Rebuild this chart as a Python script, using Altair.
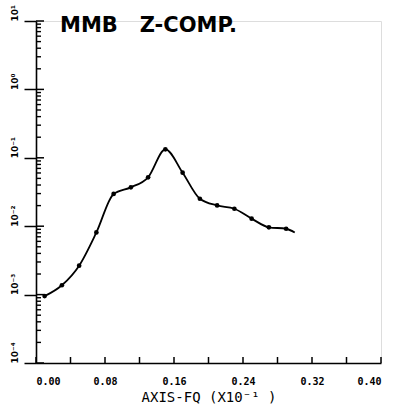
import altair as alt
import pandas as pd

# data
freq = [0.01, 0.03, 0.05, 0.07, 0.09, 0.11, 0.13, 0.15, 0.17, 0.19, 0.21, 0.23, 0.25, 0.27, 0.29]
amp = [9.5e-4, 1.37e-3, 2.65e-3, 8.1e-3, 0.0296, 0.037, 0.0519, 0.133, 0.0606,
       0.0252, 0.0201, 0.0180, 0.0129, 0.00964, 0.00918]
line_freq = freq + [0.30]
line_amp = amp + [0.0081]

x_ticks = [0.0, 0.04, 0.08, 0.12, 0.16, 0.20, 0.24, 0.28, 0.32, 0.36, 0.40]
x_labels = [0.0, 0.08, 0.16, 0.24, 0.32, 0.40]
y_major = [1e-4, 1e-3, 1e-2, 1e-1, 1e0, 1e1]
y_minor = [m * 10.0 ** e for e in range(-4, 1) for m in range(2, 10)]

W, H = 345, 342

pts = pd.DataFrame({"f": freq, "a": amp})
ln = pd.DataFrame({"f": line_freq, "a": line_amp})
xt = pd.DataFrame({"f": x_ticks})
ymin = pd.DataFrame({"a": y_minor})
ymaj = pd.DataFrame({"a": y_major})

xs = alt.Scale(domain=[0, 0.4], nice=False, zero=False)
ys = alt.Scale(type="log", domain=[1e-4, 10], nice=False)

label_expr = ("datum.value > 5 ? '10¹' : datum.value > 0.5 ? '10⁰' : "
              "datum.value > 0.05 ? '10⁻¹' : datum.value > 0.005 ? '10⁻²' : "
              "datum.value > 0.0005 ? '10⁻³' : '10⁻⁴'")

x_enc = alt.X("f:Q", scale=xs, axis=alt.Axis(
    values=x_labels, format=".2f", title="AXIS-FQ (X10⁻¹ )", ticks=False,
    labelPadding=13, labelFont="DejaVu Sans Mono", labelFontWeight="bold", labelFontSize=10,
    titleFont="DejaVu Sans Mono", titleFontSize=14, titleFontWeight="normal", titlePadding=4,
    domainColor="black", domainWidth=1.6, grid=False, labelColor="black", titleColor="black"))

line = alt.Chart(ln).mark_line(interpolate="monotone", color="black", strokeWidth=1.8).encode(
    x=x_enc,
    y=alt.Y("a:Q", scale=ys, axis=alt.Axis(
        values=y_major, labelExpr=label_expr, title=None, tickSize=12,
        tickWidth=1.5, labelOverlap=False, labelBound=False,
        labelAngle=270, labelAlign="left", labelBaseline="bottom", labelPadding=5,
        labelFont="DejaVu Sans", labelFontWeight="bold", labelFontSize=9, labelColor="black",
        domainColor="black", domainWidth=1.6, tickColor="black", tickOpacity=1, grid=False)),
)

dots = alt.Chart(pts).mark_circle(color="black", size=22, opacity=1).encode(
    x=alt.X("f:Q", scale=xs), y=alt.Y("a:Q", scale=ys))

xtick = alt.Chart(xt).mark_rule(color="black", strokeWidth=1.5).encode(
    x=alt.X("f:Q", scale=xs), y=alt.value(H), y2=alt.value(H - 6))

ytick_minor = alt.Chart(ymin).mark_rule(color="black", strokeWidth=1.4).encode(
    y=alt.Y("a:Q", scale=ys), x=alt.value(0), x2=alt.value(5))

ytick_major = alt.Chart(ymaj).mark_rule(color="black", strokeWidth=1.5).encode(
    y=alt.Y("a:Q", scale=ys), x=alt.value(0), x2=alt.value(8))

title = alt.Chart(pd.DataFrame({"t": ["MMB\u00a0\u00a0\u00a0Z-COMP."]})).mark_text(
    font="DejaVu Sans", fontWeight="bold", fontSize=21, align="left", baseline="middle",
    color="black").encode(text="t:N", x=alt.value(24), y=alt.value(5))

chart = alt.layer(line, dots, xtick, ytick_minor, ytick_major, title).properties(
    width=W, height=H,
    padding={"left": 36, "top": 21, "right": 14, "bottom": 46},
    autosize=alt.AutoSizeParams(type="none"),
).configure_view(stroke=None).configure(background="white")

chart.save("out.html", embed_options={"renderer": "svg", "actions": False})
